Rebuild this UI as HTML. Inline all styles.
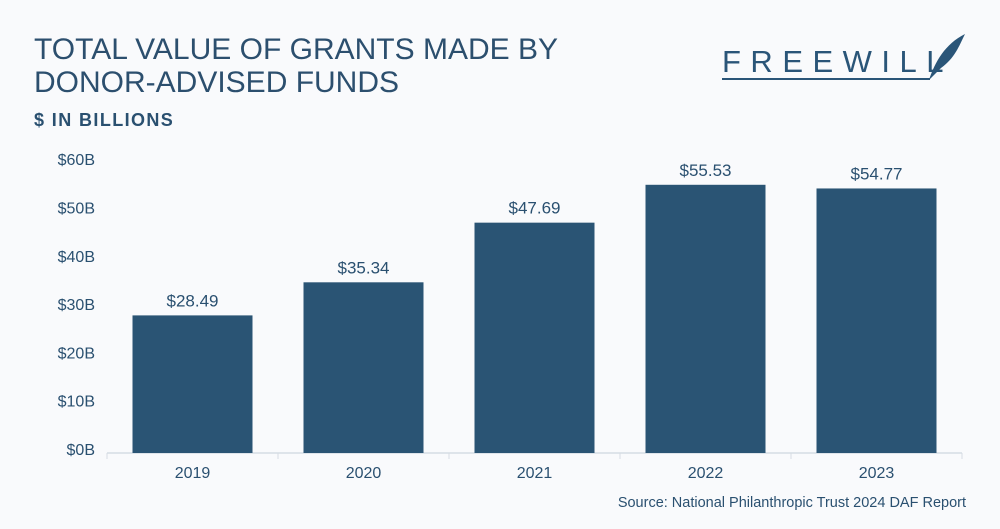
<!DOCTYPE html>
<html><head><meta charset="utf-8"><style>
body{margin:0;background:#f9fafc;font-family:"Liberation Sans",sans-serif;}
#wrap{position:relative;width:1000px;height:529px;overflow:hidden;background:#f9fafc;}
.t{position:absolute;color:#2a5070;}
</style></head><body>
<div id="wrap">
<div class="t" style="left:34px;top:33px;font-size:30px;line-height:33px;color:#2c4f6e;">TOTAL VALUE OF GRANTS MADE BY<br>DONOR-ADVISED FUNDS</div>
<div class="t" style="left:34px;top:110px;font-size:18px;font-weight:bold;letter-spacing:1.4px;">$ IN BILLIONS</div>
<div style="position:absolute;left:722px;top:36px;width:250px;height:50px;">
<div class="t" style="left:0px;top:8px;font-size:31px;letter-spacing:9.5px;color:#2a5578;">FREEWILL</div>
<div style="position:absolute;left:0px;top:42px;width:208px;height:2px;background:#2a5578;"></div>
<svg style="position:absolute;left:205px;top:-4px" width="40" height="50"><path d="M2 48 C8 30 18 12 38 2 C32 14 28 26 14 36 L6 44Z" fill="#2a5578"/></svg>
</div>
<svg id="chart" width="1000" height="529" style="position:absolute;left:0;top:0"></svg>
<div class="t" style="right:34px;top:495px;font-size:14.5px;">Source: National Philanthropic Trust 2024 DAF Report</div>
</div>
<script>
const categories=["2019","2020","2021","2022","2023"];
const values=[28.49,35.34,47.69,55.53,54.77];
const valueLabels=["$28.49","$35.34","$47.69","$55.53","$54.77"];
const ticks=[0,10,20,30,40,50,60];
const NS="http://www.w3.org/2000/svg";
const svg=document.getElementById('chart');
const x0=107,band=171,base=453,k=4.83;
const y=v=>base-v*k;
function mk(t,a){const e=document.createElementNS(NS,t);for(const n in a)e.setAttribute(n,a[n]);svg.appendChild(e);return e;}
ticks.forEach(t=>{const e=mk('text',{x:95,y:y(t)+2,'text-anchor':'end','font-size':16,fill:'#2a5070','font-family':'Liberation Sans'});e.textContent='$'+t+'B';

});
const ax=mk('line',{x1:x0,x2:x0+band*categories.length,y1:base,y2:base,stroke:'#d6dce3','stroke-width':1.5});


for(let i=0;i<=categories.length;i++){const tk=mk('line',{x1:x0+i*band,x2:x0+i*band,y1:base,y2:base+6,stroke:'#d6dce3'});

}
categories.forEach((c,i)=>{const cx=x0+band*i+band/2;
const r=mk('rect',{x:cx-60,y:y(values[i]),width:120,height:base-y(values[i]),fill:'#2a5474'});


const l=mk('text',{x:cx,y:y(values[i])-9,'text-anchor':'middle','font-size':17,fill:'#2a5070','font-family':'Liberation Sans'});l.textContent=valueLabels[i];


const xl=mk('text',{x:cx,y:478,'text-anchor':'middle','font-size':16,fill:'#2a5070','font-family':'Liberation Sans'});xl.textContent=c;

});
</script>
</body></html>
